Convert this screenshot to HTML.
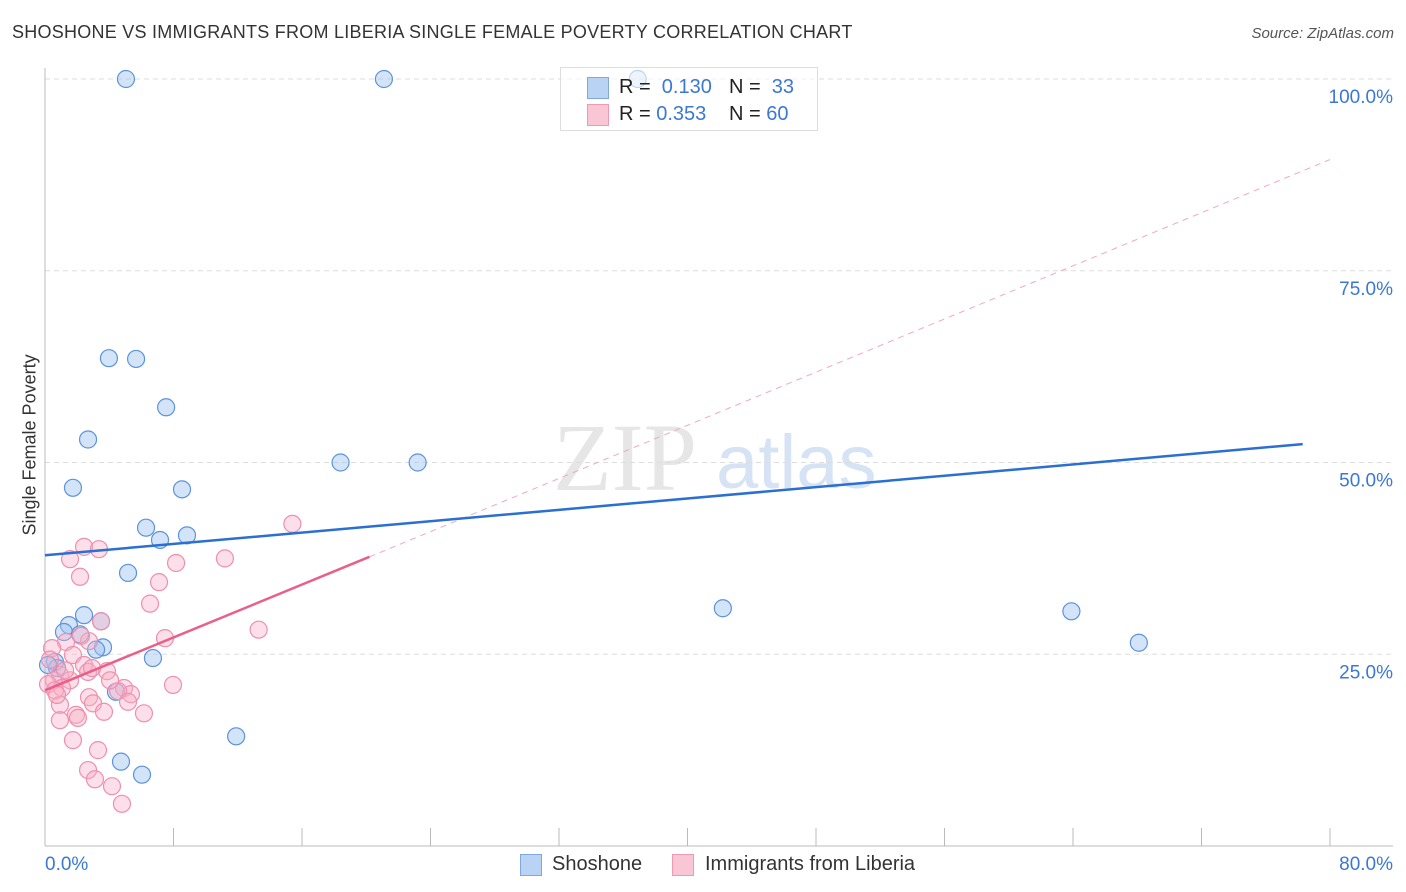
<!DOCTYPE html>
<html><head><meta charset="utf-8"><style>
body{margin:0;background:#fff;font-family:"Liberation Sans",sans-serif;}
#wrap{position:relative;width:1406px;height:892px;overflow:hidden;}
.t{position:absolute;white-space:nowrap;}
</style></head><body>
<div id="wrap">
<div class="t" style="left:12px;top:22px;font-size:18px;letter-spacing:0.25px;color:#333;">SHOSHONE VS IMMIGRANTS FROM LIBERIA SINGLE FEMALE POVERTY CORRELATION CHART</div>
<div class="t" style="right:12px;top:25px;font-size:15px;color:#555;font-style:italic;">Source: ZipAtlas.com</div>
<div class="t" style="left:-50px;top:445px;font-size:18px;color:#333;transform:rotate(-90deg);width:160px;text-align:center;">Single Female Poverty</div>
<svg id="svg" width="1406" height="892" style="position:absolute;left:0;top:0"></svg>
<div style="position:absolute;left:560px;top:67px;width:256px;height:62px;border:1px solid #ddd;background:rgba(255,255,255,0.6);font-size:20px;">
 <div style="position:absolute;left:26px;top:8px;width:220px;">
  <span style="position:absolute;left:0;top:1px;width:20px;height:20px;background:#b9d3f5;border:1px solid #7fa8e0;"></span>
  <span class="t" style="left:32px;top:0;color:#222;">R = <span style="color:#3b78d4">&nbsp;0.130</span></span>
  <span class="t" style="left:142px;top:0;color:#222;">N = <span style="color:#3b78d4">&nbsp;33</span></span>
 </div>
 <div style="position:absolute;left:26px;top:35px;width:220px;">
  <span style="position:absolute;left:0;top:1px;width:20px;height:20px;background:#f9c6d5;border:1px solid #ef9ab4;"></span>
  <span class="t" style="left:32px;top:0;color:#222;">R = <span style="color:#3b78d4">0.353</span></span>
  <span class="t" style="left:142px;top:0;color:#222;">N = <span style="color:#3b78d4">60</span></span>
 </div>
</div>
<div style="position:absolute;left:520px;top:853px;font-size:20px;color:#333;">
 <span style="position:absolute;left:0;top:1px;width:20px;height:20px;background:#b9d3f5;border:1px solid #7fa8e0;"></span>
 <span class="t" style="left:32px;top:0;">Shoshone</span>
 <span style="position:absolute;left:152px;top:1px;width:20px;height:20px;background:#f9c6d5;border:1px solid #ef9ab4;"></span>
 <span class="t" style="left:185px;top:0;">Immigrants from Liberia</span>
</div>
</div>
<script>
const blueX=[5.04,21.1,36.9,3.98,5.67,7.54,2.68,1.74,8.53,18.4,23.2,6.29,7.16,8.84,5.17,2.43,3.49,1.49,1.18,2.18,3.61,3.18,6.72,0.62,0.75,0.19,42.2,63.9,68.1,4.42,11.9,4.73,6.04];
const blueY=[100,100,100,63.6,63.5,57.2,53.0,46.7,46.5,50.0,50.0,41.5,39.9,40.5,35.6,30.1,29.3,28.8,27.9,27.6,25.9,25.6,24.5,24.0,23.2,23.6,31.0,30.6,26.5,20.1,14.3,11.0,9.3];
const pinkX=[15.4,2.43,3.36,1.56,11.2,8.16,2.18,7.10,6.54,3.49,7.47,13.3,2.74,1.31,2.24,0.44,1.74,2.43,3.86,0.93,0.56,1.56,2.68,0.19,1.06,7.97,4.92,5.35,4.55,2.74,5.17,0.93,2.99,3.67,6.16,1.93,2.05,0.93,1.74,3.30,2.68,3.11,4.17,4.79,0.62,1.25,0.31,0.75,2.93,4.05];
const pinkY=[42.0,39.0,38.7,37.4,37.5,36.9,35.1,34.4,31.6,29.3,27.1,28.2,26.7,26.6,27.4,25.8,24.9,23.6,22.8,22.3,21.6,21.6,22.7,21.1,20.6,21.0,20.6,19.8,20.2,19.4,18.8,18.4,18.6,17.5,17.3,17.1,16.7,16.4,13.8,12.5,9.9,8.7,7.8,5.5,20.3,22.9,24.3,19.7,23.2,21.6];
const blueTrend=[0,37.9,78.3,52.4];
const pinkTrend=[0,20.3,20.2,37.7];
const pinkDash=[20.2,37.7,80,89.5];
const yTicks=[25,50,75,100];
const yTickLabels=["25.0%","50.0%","75.0%","100.0%"];
const xTicks=[0,8,16,24,32,40,48,56,64,72,80];
const NS="http://www.w3.org/2000/svg";
const svg=document.getElementById('svg');
const sx=v=>45+v/80*1285;
const sy=v=>846-v/100*767;
function mk(tag,at){const e=document.createElementNS(NS,tag);for(const k in at)e.setAttribute(k,at[k]);svg.appendChild(e);return e;}
let w=mk('text',{x:553,y:490,'font-size':96,fill:'#e6e6e6','font-family':'Liberation Serif, serif'});w.textContent='ZIP';


let w2=mk('text',{x:716,y:488,'font-size':76,fill:'#d5e3f5','font-family':'Liberation Sans, sans-serif'});w2.textContent='atlas';


yTicks.forEach((t,i)=>{
 const g=mk('line',{x1:45,x2:1393,y1:sy(t),y2:sy(t),stroke:'#ddd','stroke-dasharray':'5,4'});
 
 
 const l=mk('text',{x:1393,y:sy(t)+24,'text-anchor':'end','font-size':19,fill:'#3b78d4','font-family':'Liberation Sans, sans-serif'});l.textContent=yTickLabels[i];
 
 
});
let ax=mk('line',{x1:45,x2:45,y1:68,y2:846,stroke:'#bbb'});


let bx=mk('line',{x1:45,x2:1393,y1:846,y2:846,stroke:'#bbb'});


xTicks.forEach(t=>{const e=mk('line',{x1:sx(t),x2:sx(t),y1:828,y2:846,stroke:'#bbb'});
 
 });
let xl0=mk('text',{x:45,y:870,'font-size':19,fill:'#3b78d4','font-family':'Liberation Sans, sans-serif'});xl0.textContent='0.0%';


let xl1=mk('text',{x:1393,y:870,'text-anchor':'end','font-size':19,fill:'#3b78d4','font-family':'Liberation Sans, sans-serif'});xl1.textContent='80.0%';


blueX.forEach((x,i)=>{const c=mk('circle',{cx:sx(x),cy:sy(blueY[i]),r:8.5,fill:'rgba(160,196,240,0.45)',stroke:'#5b93dc','stroke-width':1.2});
 
 });
pinkX.forEach((x,i)=>{const c=mk('circle',{cx:sx(x),cy:sy(pinkY[i]),r:8.5,fill:'rgba(247,176,198,0.4)',stroke:'#ef8fae','stroke-width':1.2});
 
 });
let pd=mk('line',{x1:sx(pinkDash[0]),y1:sy(pinkDash[1]),x2:sx(pinkDash[2]),y2:sy(pinkDash[3]),stroke:'#eeaabb','stroke-width':1,'stroke-dasharray':'6,5'});


let bt=mk('line',{x1:sx(blueTrend[0]),y1:sy(blueTrend[1]),x2:sx(blueTrend[2]),y2:sy(blueTrend[3]),stroke:'#2a6fd1','stroke-width':2.5});


let pt=mk('line',{x1:sx(pinkTrend[0]),y1:sy(pinkTrend[1]),x2:sx(pinkTrend[2]),y2:sy(pinkTrend[3]),stroke:'#e8608a','stroke-width':2.5});


</script>
</body></html>
